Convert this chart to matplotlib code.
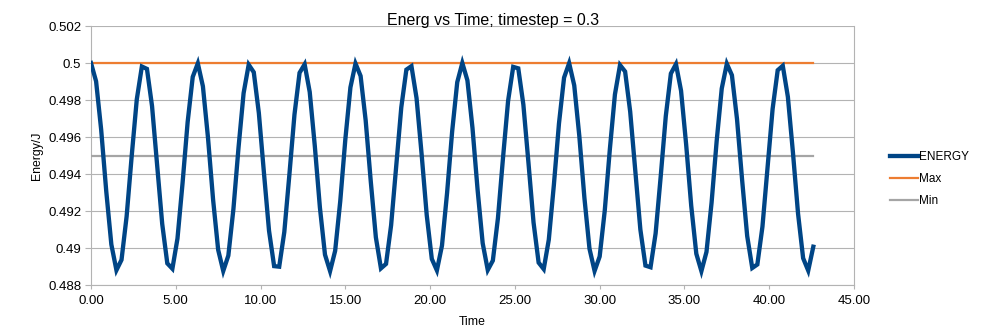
import matplotlib
matplotlib.use("Agg")
import matplotlib.pyplot as plt
from matplotlib.ticker import MultipleLocator, FuncFormatter

plt.rcParams['font.family'] = ['Liberation Sans', 'DejaVu Sans']

# time steps of 0.3
time = [round(0.3 * i, 1) for i in range(143)]

# energy
energy = [
    0.50000, 0.49901, 0.49639, 0.49306, 0.49019, 0.48880, 0.48936, 0.49170, 0.49497, 0.49803,
    0.49981, 0.49968, 0.49767, 0.49451, 0.49130, 0.48917, 0.48888, 0.49051, 0.49351, 0.49681,
    0.49925, 0.49998, 0.49874, 0.49596, 0.49262, 0.48990, 0.48876, 0.48959, 0.49211, 0.49542,
    0.49837, 0.49991, 0.49950, 0.49729, 0.49406, 0.49093, 0.48902, 0.48899, 0.49086, 0.49396,
    0.49721, 0.49947, 0.49993, 0.49843, 0.49551, 0.49219, 0.48964, 0.48875, 0.48985, 0.49253,
    0.49587, 0.49868, 0.49997, 0.49930, 0.49689, 0.49360, 0.49058, 0.48890, 0.48914, 0.49123,
    0.49442, 0.49760, 0.49964, 0.49983, 0.49810, 0.49506, 0.49178, 0.48941, 0.48879, 0.49013,
    0.49297, 0.49630, 0.49896, 0.50000, 0.49906, 0.49648, 0.49315, 0.49026, 0.48881, 0.48932,
    0.49161, 0.49488, 0.49796, 0.49979, 0.49971, 0.49775, 0.49461, 0.49138, 0.48921, 0.48886,
    0.49045, 0.49342, 0.49673, 0.49921, 0.49999, 0.49879, 0.49605, 0.49271, 0.48996, 0.48876,
    0.48954, 0.49202, 0.49533, 0.49830, 0.49989, 0.49954, 0.49737, 0.49415, 0.49100, 0.48905,
    0.48896, 0.49079, 0.49387, 0.49713, 0.49943, 0.49994, 0.49850, 0.49560, 0.49228, 0.48969,
    0.48875, 0.48979, 0.49245, 0.49578, 0.49862, 0.49996, 0.49934, 0.49697, 0.49369, 0.49065,
    0.48892, 0.48911, 0.49115, 0.49433, 0.49752, 0.49961, 0.49985, 0.49817, 0.49515, 0.49186,
    0.48945, 0.48878, 0.49007,
]

max_level = [0.5] * len(time)
min_level = [0.495] * len(time)

fig = plt.figure(figsize=(9.86, 3.30), dpi=100)
ax = fig.add_axes([91 / 986, 1 - 285 / 330, (854 - 91) / 986, (285 - 26) / 330])

ax.plot(time, energy, color='#004586', lw=3.1, label='ENERGY', solid_joinstyle='miter', zorder=4)
ax.plot(time, max_level, color='#ed7d31', lw=1.6, label='Max', zorder=3)
ax.plot(time, min_level, color='#a5a5a5', lw=1.6, label='Min', zorder=3)

ax.set_xlim(0, 45)
ax.set_ylim(0.488, 0.502)
ax.xaxis.set_major_locator(MultipleLocator(5))
ax.yaxis.set_major_locator(MultipleLocator(0.002))
ax.xaxis.set_major_formatter(FuncFormatter(lambda v, p: '%.2f' % v))
ax.yaxis.set_major_formatter(FuncFormatter(lambda v, p: ('%.3f' % v).rstrip('0')))

# grid and frame like the spreadsheet export
ax.grid(axis='y', color='#b3b3b3', lw=0.8)
ax.spines['top'].set_visible(False)
for side in ['left', 'bottom', 'right']:
    ax.spines[side].set_color('#b3b3b3')
    ax.spines[side].set_linewidth(0.8)
ax.tick_params(axis='both', colors='#b3b3b3', labelcolor='black', labelsize=9.5, width=0.8)
ax.tick_params(axis='x', length=3, pad=4)
ax.tick_params(axis='y', length=4, pad=3)

ax.set_xlabel('Time', fontsize=8.8, labelpad=7)
ax.set_ylabel('Energy/J', fontsize=8.8, labelpad=4)

fig.text(0.5, 1 - 20 / 330, 'Energ vs Time; timestep = 0.3', ha='center', va='center', fontsize=11.5)

fig.legend(loc='center left', bbox_to_anchor=(884 / 986, 1 - 179 / 330), frameon=False,
           fontsize=8.5, handlelength=2.4, handletextpad=0.1, labelspacing=0.85, borderpad=0)

fig.savefig('out.png', dpi=100)
